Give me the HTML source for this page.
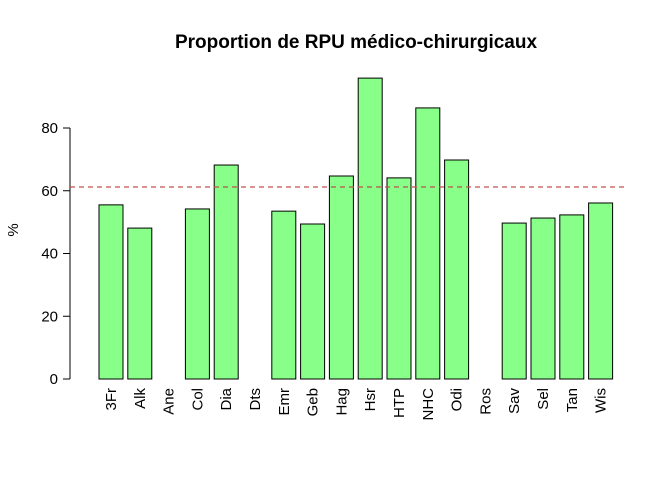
<!DOCTYPE html>
<html><head><meta charset="utf-8"><style>
body{margin:0;background:#fff}
svg text{font-family:"Liberation Sans",Arial,sans-serif}
</style></head><body>
<svg id="chart" width="672" height="480">
<text x="356" y="48" text-anchor="middle" font-size="19" font-weight="bold">Proportion de RPU médico-chirurgicaux</text>
<text transform="translate(18,230) rotate(-90)" text-anchor="middle" font-size="15">%</text>
<g id="yaxis"></g>
<g id="bars"></g>
<g id="xlabels"></g>
</svg>
<script>
const categories=["3Fr","Alk","Ane","Col","Dia","Dts","Emr","Geb","Hag","Hsr","HTP","NHC","Odi","Ros","Sav","Sel","Tan","Wis"];
const values=[55.5,48.1,null,54.2,68.2,null,53.5,49.4,64.7,95.9,64.1,86.4,69.8,null,49.7,51.3,52.3,56.1];
const yTicks=[0,20,40,60,80];
const refLine=61.2;
const NS="http://www.w3.org/2000/svg";
function y(v){return 379-v*251/80;}
function xl(i){return 99+i*28.8;}
const bw=24;
function mk(t,a,p){const e=document.createElementNS(NS,t);for(const k in a)e.setAttribute(k,a[k]);p.appendChild(e);return e;}
const ya=document.getElementById('yaxis');
mk('line',{x1:70,x2:70,y1:y(80),y2:y(0),stroke:'#000'},ya);
yTicks.forEach(t=>{
 const l=mk('line',{x1:63,x2:70,y1:y(t),y2:y(t),stroke:'#000'},ya);
 
 
 const tx=mk('text',{x:58,y:y(t)+5,'text-anchor':'end','font-size':15},ya);
 tx.textContent=t;
 
 
});
const bg=document.getElementById('bars'),xg=document.getElementById('xlabels');
categories.forEach((c,i)=>{
 const v=values[i];
 if(v!==null){
  const r=mk('rect',{x:xl(i),y:y(v),width:bw,height:y(0)-y(v),fill:'#88ff88',stroke:'#000','stroke-width':1},bg);
  
  
 }
 const cx=xl(i)+bw/2+5;
 const t=mk('text',{transform:`translate(${cx},388) rotate(-90)`,'text-anchor':'end','font-size':15},xg);
 t.textContent=c;
 
 
});
const rl=mk('line',{x1:70,x2:628,y1:y(refLine),y2:y(refLine),stroke:'#c0504d','stroke-dasharray':'5,4','stroke-width':1.2},document.getElementById('chart'));


</script>
</body></html>
